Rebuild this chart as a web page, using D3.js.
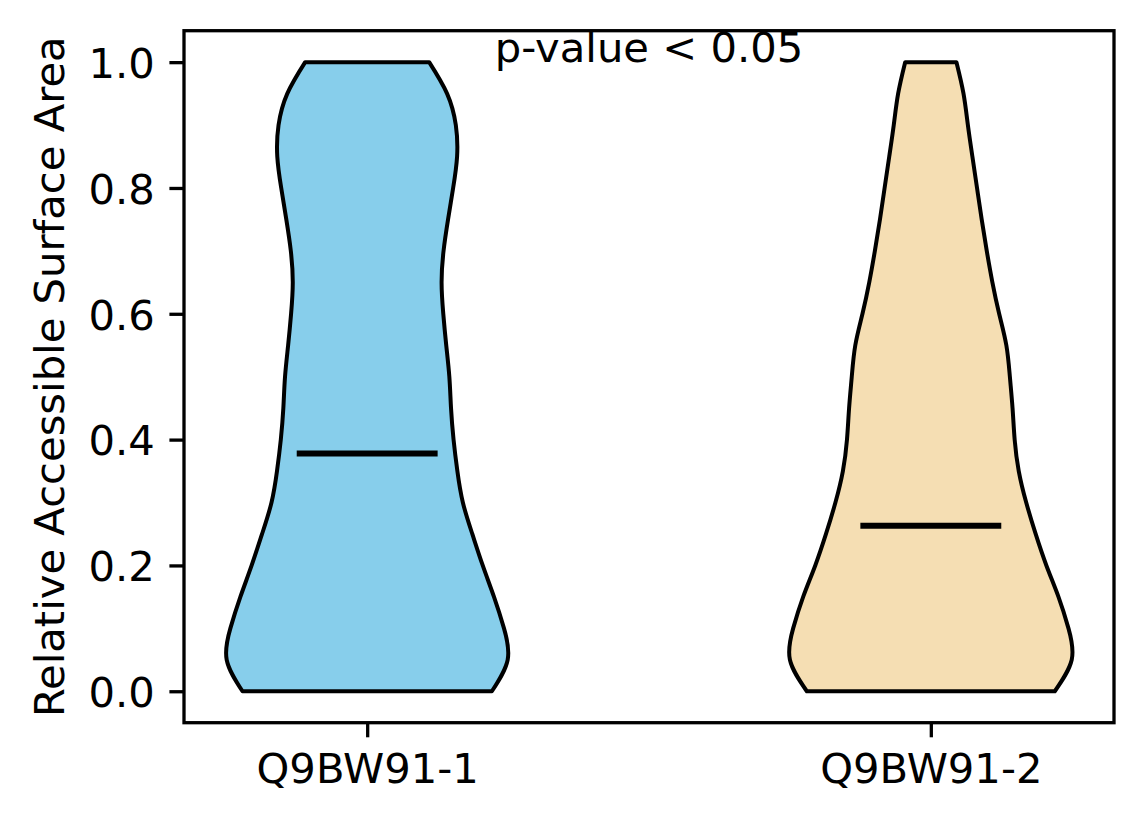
<!DOCTYPE html>
<html>
<head>
<meta charset="utf-8">
<script src="https://cdn.jsdelivr.net/npm/d3@7"></script>
<style>
  body { margin: 0; background: #fff; }
  svg { display: block; font-family: "DejaVu Sans", sans-serif; }
</style>
</head>
<body>
<div id="chart"></div>
<script>
// DATA
var categories = ["Q9BW91-1", "Q9BW91-2"];
var fillColors = ["#87CEEB", "#F5DEB3"];
// RSA levels where the violin outline was read
var rsaLevels = [0, 0.05, 0.10, 0.15, 0.20, 0.25, 0.30, 0.35, 0.40, 0.45, 0.50,
                 0.55, 0.60, 0.65, 0.70, 0.75, 0.80, 0.85, 0.90, 0.95, 1.0];
// relative density (1 = widest point) at each level
var density1 = [0.885, 0.997, 0.971, 0.90, 0.82, 0.746, 0.679, 0.64, 0.613, 0.595, 0.583,
                0.561, 0.54, 0.528, 0.542, 0.574, 0.61, 0.638, 0.629, 0.567, 0.44];
var density2 = [0.88, 1.0, 0.977, 0.906, 0.82, 0.744, 0.677, 0.624, 0.595, 0.58, 0.561,
                0.536, 0.485, 0.437, 0.397, 0.361, 0.328, 0.295, 0.263, 0.232, 0.182];
var medians = [0.378, 0.263];
var yTicks = [0, 0.2, 0.4, 0.6, 0.8, 1.0];
var annotation = "p-value < 0.05";
var yLabel = "Relative Accessible Surface Area";

// SETUP
var W = 1144, H = 824;
var margin = { top: 30.7, right: 30, bottom: 101.3, left: 184 };
var width = W - margin.left - margin.right,
  height = H - margin.top - margin.bottom;
var fs = 41.7, tick = 14.6, pad = 14.6;
var violinWidth = 0.5;

var svg = d3.select("#chart").append("svg")
  .attr("width", W)
  .attr("height", H);

var g = svg.append("g")
  .attr("transform", "translate(" + margin.left + "," + margin.top + ")");

var x = d3.scaleLinear().domain([0.675, 2.325]).range([0, width]);
var y = d3.scaleLinear().domain([-0.05, 1.05]).range([height, 0]);

var densities = [density1, density2];

// VIOLINS
categories.forEach(function (c, i) {
  var pos = i + 1;
  var pts = rsaLevels.map(function (v, k) {
    return { v: v, w: densities[i][k] };
  });
  var area = d3.area()
    .y(function (d) { return y(d.v); })
    .x0(function (d) { return x(pos - violinWidth / 2 * d.w); })
    .x1(function (d) { return x(pos + violinWidth / 2 * d.w); })
    .curve(d3.curveNatural);

  g.append("path")
    .datum(pts)
    .attr("d", area)
    .attr("fill", fillColors[i])
    .attr("stroke", "#000")
    .attr("stroke-width", 4)
    .attr("stroke-linejoin", "round");

  g.append("line")
    .attr("x1", x(pos - violinWidth / 4))
    .attr("x2", x(pos + violinWidth / 4))
    .attr("y1", y(medians[i]))
    .attr("y2", y(medians[i]))
    .attr("stroke", "#000")
    .attr("stroke-width", 6);
});

// AXES
var yAxis = g.append("g")
  .call(d3.axisLeft(y).tickValues(yTicks).tickFormat(d3.format(".1f"))
    .tickSize(tick).tickPadding(pad));
var xAxis = g.append("g")
  .attr("transform", "translate(0," + height + ")")
  .call(d3.axisBottom(x).tickValues([1, 2]).tickFormat(function (d) { return categories[d - 1]; })
    .tickSize(tick).tickPadding(pad));

[yAxis, xAxis].forEach(function (a) {
  a.select(".domain").remove();
  a.selectAll("line").attr("stroke", "#000").attr("stroke-width", 3.3);
  a.selectAll("text").attr("fill", "#000")
    .style("font-family", "'DejaVu Sans', sans-serif")
    .style("font-size", fs + "px");
});
yAxis.selectAll("text").attr("dy", "0.365em");
xAxis.selectAll("text").attr("dy", "0.75em");

// frame
g.append("rect")
  .attr("width", width)
  .attr("height", height)
  .attr("fill", "none")
  .attr("stroke", "#000")
  .attr("stroke-width", 3.3);

// annotation
g.append("text")
  .attr("x", x(1.5))
  .attr("y", y(1.0))
  .attr("text-anchor", "middle")
  .style("font-size", fs + "px")
  .text(annotation);

// y label
svg.append("text")
  .attr("transform", "translate(63.5," + (margin.top + height / 2) + ") rotate(-90)")
  .attr("text-anchor", "middle")
  .style("font-size", fs + "px")
  .text(yLabel);
</script>
</body>
</html>
